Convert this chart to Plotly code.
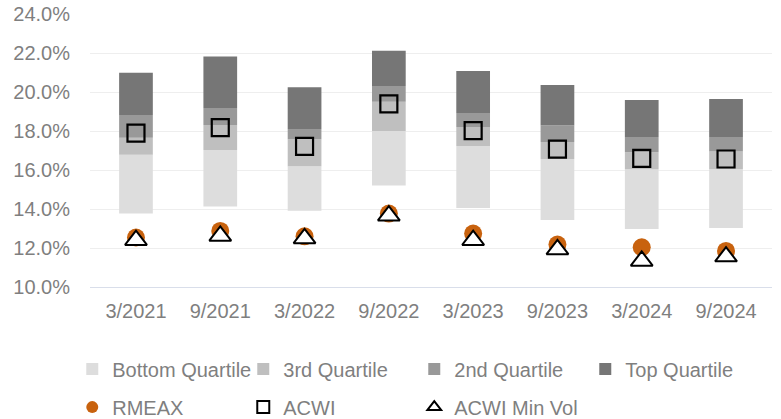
import plotly.graph_objects as go

categories = ['3/2021', '9/2021', '3/2022', '9/2022', '3/2023', '9/2023', '3/2024', '9/2024']
q_min = [13.77, 14.13, 13.91, 15.21, 14.06, 13.44, 12.98, 13.03]
q25 = [16.79, 17.03, 16.20, 18.00, 17.23, 16.57, 16.04, 16.05]
q50 = [17.66, 18.31, 17.58, 19.51, 18.21, 17.44, 16.91, 16.96]
q75 = [18.83, 19.19, 18.11, 20.32, 18.93, 18.30, 17.70, 17.70]
q_max = [21.00, 21.83, 20.25, 22.12, 21.09, 20.37, 19.60, 19.65]
rmeax = [12.54, 12.88, 12.60, 13.77, 12.74, 12.18, 12.04, 11.85]
acwi = [17.90, 18.18, 17.22, 19.40, 18.03, 17.08, 16.60, 16.57]
acwi_min_vol = [12.40, 12.62, 12.49, 13.66, 12.40, 11.93, 11.34, 11.56]
y_ticks = [10, 12, 14, 16, 18, 20, 22, 24]
y_tick_labels = ['10.0%', '12.0%', '14.0%', '16.0%', '18.0%', '20.0%', '22.0%', '24.0%']

FONT = 'Liberation Sans, Arial, sans-serif'
GRAY = '#7f7f7f'

fig = go.Figure()

bands = [
    ('Bottom Quartile', q_min, q25, '#dddddd'),
    ('3rd Quartile', q25, q50, '#bfbfbf'),
    ('2nd Quartile', q50, q75, '#999999'),
    ('Top Quartile', q75, q_max, '#767676'),
]
for name, lo, hi, color in bands:
    fig.add_trace(go.Bar(
        x=categories, base=lo, y=[h - l for l, h in zip(lo, hi)],
        name=name, marker=dict(color=color, line=dict(width=0)),
        width=0.4, legend='legend', hoverinfo='skip'))

fig.add_trace(go.Scatter(
    x=categories, y=rmeax, mode='markers', name='RMEAX',
    marker=dict(symbol='circle', size=18, color='#c8620e', line=dict(width=0)),
    legend='legend2'))
fig.add_trace(go.Scatter(
    x=categories, y=acwi, mode='markers', name='ACWI',
    marker=dict(symbol='square-open', size=17, color='#000000', line=dict(width=2.2)),
    legend='legend2'))
fig.add_trace(go.Scatter(
    x=categories, y=acwi_min_vol, mode='markers', name='ACWI Min Vol',
    marker=dict(symbol='triangle-up', size=19, color='#ffffff',
                line=dict(width=2, color='#000000')),
    legend='legend2'))

legend_common = dict(
    orientation='h', font=dict(family=FONT, size=20, color=GRAY),
    bgcolor='rgba(0,0,0,0)', itemsizing='constant', itemwidth=30,
    entrywidth=126, entrywidthmode='pixels', xanchor='left', yanchor='middle',
    traceorder='normal')

fig.update_layout(
    template='none',
    width=781, height=419,
    margin=dict(l=90, r=9, t=14, b=132, autoexpand=False),
    paper_bgcolor='white', plot_bgcolor='white',
    barmode='overlay',
    showlegend=True,
    font=dict(family=FONT, size=20, color=GRAY),
    xaxis=dict(
        type='category', showgrid=False, showline=True, linecolor='#d9deea',
        linewidth=1, ticks='', tickfont=dict(family=FONT, size=20, color=GRAY),
        zeroline=False, automargin=False, ticklabelstandoff=6),
    yaxis=dict(
        range=[10, 24.01], tickvals=y_ticks, ticktext=y_tick_labels,
        showgrid=True, gridcolor='#eeeeee', gridwidth=1, zeroline=False,
        showline=False, ticks='', ticklabelstandoff=19, automargin=False,
        ticklabeloverflow='allow',
        tickfont=dict(family=FONT, size=20, color=GRAY)),
    legend=dict(x=-0.026, y=-0.3, **legend_common),
    legend2=dict(x=-0.026, y=-0.44, **legend_common),
)

fig.write_html(
    'out.html',
    config={'displayModeBar': False},
    post_script="document.body.style.margin='0';document.body.style.overflow='hidden';")
